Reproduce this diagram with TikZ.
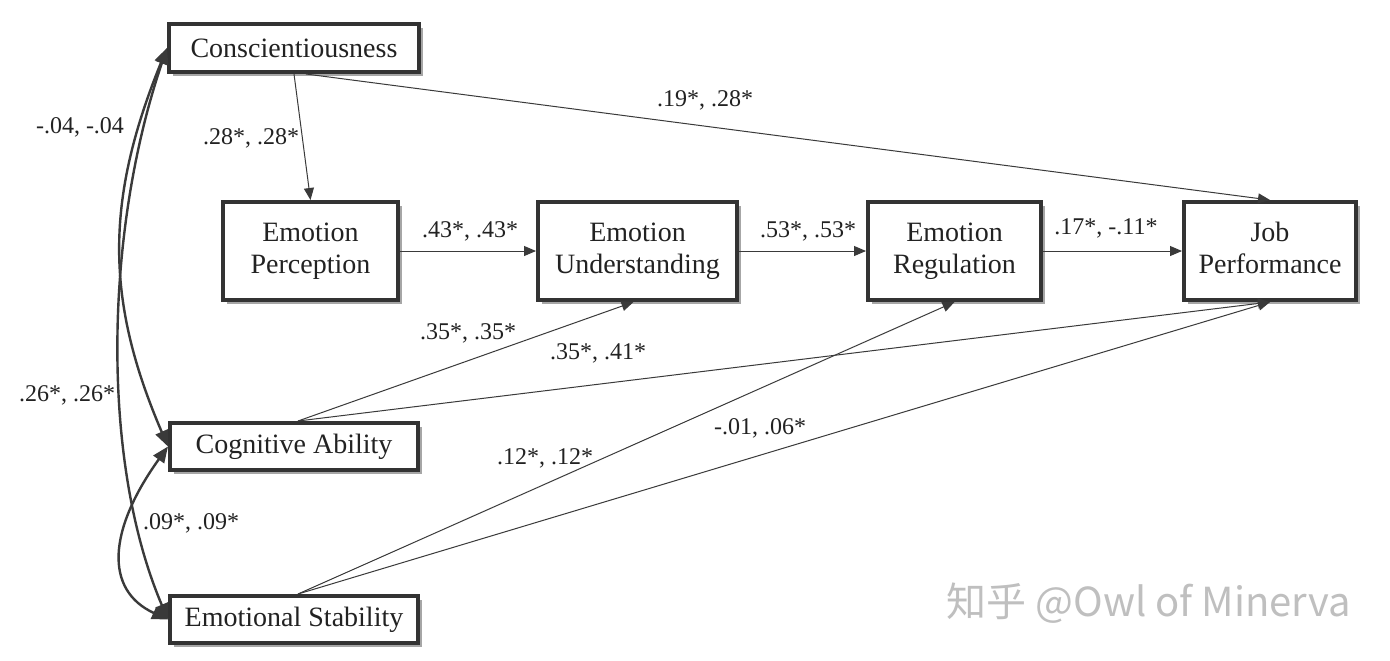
\documentclass[tikz,border=0pt]{standalone}
\usepackage{fontspec}
\setmainfont{Liberation Serif}
\newfontfamily\cjkfont{Noto Sans CJK SC}
\usetikzlibrary{arrows.meta,shadows}
\definecolor{boxc}{HTML}{333333}
\definecolor{linec}{HTML}{3A3A3A}
\definecolor{txtc}{HTML}{222222}
\begin{document}
\begin{tikzpicture}[x=0.5pt,y=-0.5pt,
  box/.style={draw=boxc, line width=2pt, fill=white, text=txtc,
    drop shadow={shadow xshift=2pt,shadow yshift=-2pt,fill=black!35,opacity=1},
    font=\fontsize{14}{16}\selectfont, align=center, inner sep=0pt},
  path/.style={draw=linec, line width=0.5pt, -{Triangle[length=6pt,width=5pt]}},
  corr/.style={draw=linec, line width=1.2pt,
    {Triangle[length=8pt,width=6.5pt]}-{Triangle[length=8pt,width=6.5pt]}},
  lab/.style={text=txtc, font=\fontsize{12}{12}\selectfont, inner sep=0pt}
]
\useasboundingbox (0,0) rectangle (1390,660);
\fill[white] (0,0) rectangle (1390,660);

% watermark
\node[font=\cjkfont\fontsize{20}{20}\selectfont, text=black!25] (wm) at (1149,603) {知乎 @Owl of Minerva};

% boxes
\node[box, minimum width=125pt, minimum height=24pt] (C) at (294,48) {Conscientiousness};
\node[box, minimum width=87.5pt, minimum height=49pt] (EP) at (310.5,251) {\strut Emotion\\\strut Perception};
\node[box, minimum width=99.5pt, minimum height=49pt] (EU) at (637.5,251) {\strut Emotion\\\strut Understanding};
\node[box, minimum width=86.5pt, minimum height=49pt] (ER) at (954.5,251) {\strut Emotion\\\strut Regulation};
\node[box, minimum width=86pt, minimum height=49pt] (JP) at (1270,251) {\strut Job\\\strut Performance};
\node[box, minimum width=124pt, minimum height=23.5pt] (CA) at (294,446.5) {Cognitive Ability};
\node[box, minimum width=124pt, minimum height=23.5pt] (ES) at (294,619.5) {Emotional Stability};

% directed paths
\draw[path] (C.south) -- (EP.north);
\draw[path] ([xshift=6pt]C.south) -- (JP.north);
\draw[path] (EP.east) -- (EU.west);
\draw[path] (EU.east) -- (ER.west);
\draw[path] (ER.east) -- (JP.west);
\draw[path] ([xshift=2pt]CA.north) -- ([xshift=-2pt]EU.south);
\draw[path] ([xshift=2pt]CA.north) -- (JP.south);
\draw[path] ([xshift=2pt]ES.north) -- (ER.south);
\draw[path] ([xshift=2pt]ES.north) -- (JP.south);

% correlations
\draw[corr] (C.west) .. controls (105,200) and (105,300) .. (CA.west);
\draw[corr] (C.west) .. controls (105,230) and (100,460) .. (ES.west);
\draw[corr] (CA.west) .. controls (108,530) and (104,590) .. (ES.west);

% labels
\node[lab] (l1) at (251,138) {.28*, .28*};
\node[lab] (l2) at (705,100) {.19*, .28*};
\node[lab] (l3) at (470,231) {.43*, .43*};
\node[lab] (l4) at (808,231) {.53*, .53*};
\node[lab] (l5) at (1106,228) {.17*, -.11*};
\node[lab] (l6) at (468,333) {.35*, .35*};
\node[lab] (l7) at (598,353) {.35*, .41*};
\node[lab] (l8) at (760,428) {-.01, .06*};
\node[lab] (l9) at (545,458) {.12*, .12*};
\node[lab] (l10) at (80,127) {-.04, -.04};
\node[lab] (l11) at (67,395) {.26*, .26*};
\node[lab] (l12) at (191,523) {.09*, .09*};
\end{tikzpicture}
\end{document}
